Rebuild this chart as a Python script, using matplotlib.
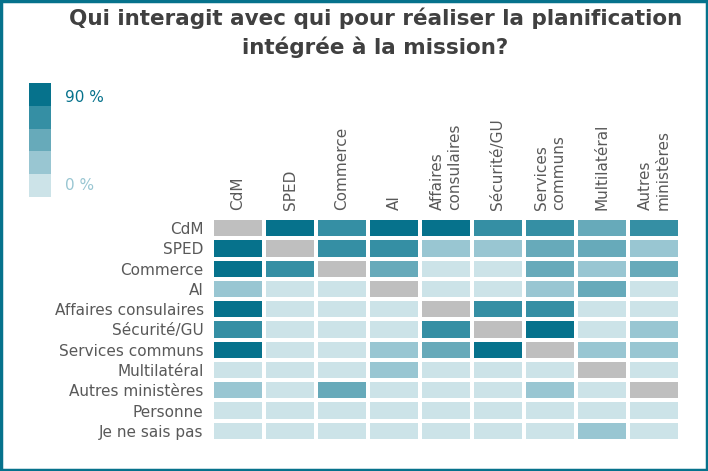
import numpy as np
import matplotlib.pyplot as plt
from matplotlib.colors import ListedColormap
from matplotlib.patches import Rectangle

rows = ['CdM', 'SPED', 'Commerce', 'AI', 'Affaires consulaires', 'Sécurité/GU',
        'Services communs', 'Multilatéral', 'Autres ministères', 'Personne', 'Je ne sais pas']
cols = ['CdM', 'SPED', 'Commerce', 'AI', 'Affaires\nconsulaires', 'Sécurité/GU',
        'Services\ncommuns', 'Multilatéral', 'Autres\nministères']

# intensity level 0..4, -1 = same unit (gray)
levels = [
    [-1, 4, 3, 4, 4, 3, 3, 2, 3],
    [4, -1, 3, 3, 1, 1, 2, 2, 1],
    [4, 3, -1, 2, 0, 0, 2, 1, 2],
    [1, 0, 0, -1, 0, 0, 1, 2, 0],
    [4, 0, 0, 0, -1, 3, 3, 0, 0],
    [3, 0, 0, 0, 3, -1, 4, 0, 1],
    [4, 0, 0, 1, 2, 4, -1, 1, 1],
    [0, 0, 0, 1, 0, 0, 0, -1, 0],
    [1, 0, 2, 0, 0, 0, 1, 0, -1],
    [0, 0, 0, 0, 0, 0, 0, 0, 0],
    [0, 0, 0, 0, 0, 0, 0, 1, 0],
]

palette = ['#BFBFBF', '#CCE3E8', '#99C6D2', '#67AABA', '#358FA4', '#06728C']
cmap = ListedColormap(palette)

fig = plt.figure(figsize=(7.08, 4.71), dpi=100)
fig.patches.append(Rectangle((0.002, 0.003), 0.996, 0.994, transform=fig.transFigure,
                             fill=False, edgecolor='#06728C', linewidth=2.5))

ax = fig.add_axes([212 / 708, 30 / 471, 468 / 708, 223 / 471])
data = np.array(levels) + 1
ax.pcolormesh(data, cmap=cmap, vmin=-0.5, vmax=5.5, edgecolors='white', linewidth=1.5)
ax.set_xlim(0, len(cols))
ax.set_ylim(len(rows), 0)
for s in ax.spines.values():
    s.set_visible(False)
ax.set_yticks(np.arange(len(rows)) + 0.5)
ax.set_yticklabels(rows, fontsize=11, color='#595959')
ax.set_xticks(np.arange(len(cols)) + 0.5)
ax.set_xticklabels(cols, fontsize=11, color='#595959', rotation=90, ha='center', va='bottom',
                   multialignment='left')
ax.xaxis.tick_top()
ax.tick_params(length=0, pad=6)

fig.text(0.53, 0.93, 'Qui interagit avec qui pour réaliser la planification\nintégrée à la mission?',
         ha='center', va='center', fontsize=15.5, fontweight='bold', color='#404040',
         linespacing=1.4)

# legend scale
lax = fig.add_axes([29 / 708, (471 - 197) / 471, 22 / 708, 114 / 471])
lax.imshow(np.arange(5, 0, -1).reshape(-1, 1), cmap=cmap, vmin=-0.5, vmax=5.5, aspect='auto')
lax.axis('off')
fig.text(65 / 708, 1 - 97 / 471, '90 %', fontsize=11, color='#06728C', va='center')
fig.text(65 / 708, 1 - 185 / 471, '0 %', fontsize=11, color='#99C6D2', va='center')

fig.savefig('out.png', dpi=100)
